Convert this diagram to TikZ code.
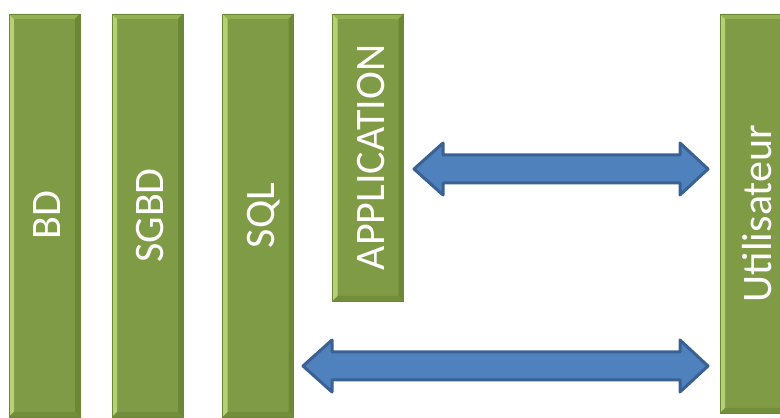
\documentclass[tikz,border=0pt]{standalone}
\usepackage{fontspec}
\setmainfont{Carlito}
\usetikzlibrary{calc}
\pgfdeclarelayer{edgelayer}
\pgfdeclarelayer{nodelayer}
\pgfsetlayers{edgelayer,nodelayer,main}
\definecolor{barfill}{HTML}{809B45}
\definecolor{barlight}{HTML}{B4D274}
\definecolor{bartop}{HTML}{93B052}
\definecolor{bardark}{HTML}{6C8836}
\definecolor{barbottom}{HTML}{728E3A}
\definecolor{arrowfill}{HTML}{4F81BD}
\definecolor{arrowedge}{HTML}{3A6193}
\tikzset{font=\fontsize{42}{50}\selectfont}
\newcommand\vtext[1]{\rotatebox{90}{\rule{0pt}{32pt}\smash{#1}}}
\newcommand\widearrow[2]{%
	\path[style=wide arrow] let \p1=(#1), \p2=(#2) in
		(\x1,\y1) -- (\x1+29pt,\y1+26pt) -- (\x1+29pt,\y1+14pt)
		-- (\x2-28pt,\y2+14pt) -- (\x2-28pt,\y2+26pt) -- (\x2,\y2)
		-- (\x2-28pt,\y2-26pt) -- (\x2-28pt,\y2-14pt)
		-- (\x1+29pt,\y1-14pt) -- (\x1+29pt,\y1-26pt) -- cycle;}
\tikzstyle{none}=[inner sep=0pt]
\tikzstyle{wide arrow}=[fill=arrowfill, draw=arrowedge, line width=3pt, line join=round]
\tikzstyle{bar}=[rectangle, fill=barfill, draw=bardark, line width=0.5pt, inner sep=0pt, text=white, minimum width=71pt,
	path picture={
		\coordinate (nw) at (path picture bounding box.north west);
		\coordinate (ne) at (path picture bounding box.north east);
		\coordinate (sw) at (path picture bounding box.south west);
		\coordinate (se) at (path picture bounding box.south east);
		\fill[barlight] (nw) -- (sw) -- ([shift={(5pt,5pt)}]sw) -- ([shift={(5pt,-5pt)}]nw) -- cycle;
		\fill[bartop] (nw) -- (ne) -- ([shift={(-5pt,-5pt)}]ne) -- ([shift={(5pt,-5pt)}]nw) -- cycle;
		\fill[bardark] (ne) -- (se) -- ([shift={(-5pt,5pt)}]se) -- ([shift={(-5pt,-5pt)}]ne) -- cycle;
		\fill[barbottom] (sw) -- (se) -- ([shift={(-5pt,5pt)}]se) -- ([shift={(5pt,5pt)}]sw) -- cycle;
	}]

\begin{document}
\begin{tikzpicture}[x=1pt, y=1pt]
	\useasboundingbox (0,0) rectangle (780,418);
	\begin{pgfonlayer}{nodelayer}
		\node [style=bar, minimum height=403pt] (0) at (44.5, 202.5) {\vtext{BD}};
		\node [style=bar, minimum height=403pt] (1) at (147.5, 202.5) {\vtext{SGBD}};
		\node [style=bar, minimum height=403pt] (2) at (258, 202.5) {\vtext{SQL}};
		\node [style=bar, minimum height=287pt] (3) at (368, 260.5) {\vtext{APPLICATION}};
		\node [style=bar, minimum height=399pt, minimum width=70pt] (4) at (755, 204.5) {\vtext{Utilisateur}};
		\node [style=none] (5) at (414, 249) {};
		\node [style=none] (6) at (708, 249) {};
		\node [style=none] (7) at (303, 52) {};
		\node [style=none] (8) at (708, 52) {};
	\end{pgfonlayer}
	\begin{pgfonlayer}{edgelayer}
		\widearrow{5.center}{6.center}
		\widearrow{7.center}{8.center}
	\end{pgfonlayer}
\end{tikzpicture}
\end{document}
